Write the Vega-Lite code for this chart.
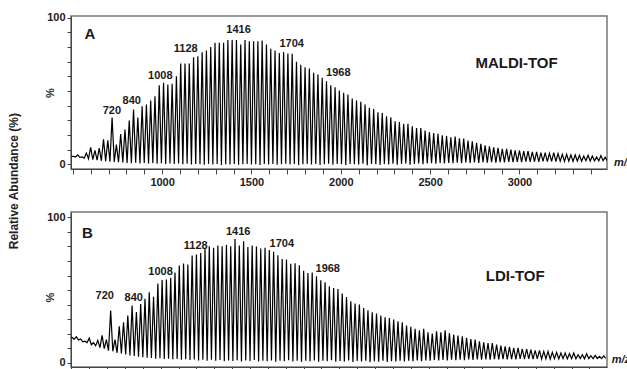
{
  "$schema": "https://vega.github.io/schema/vega-lite/v6.json",
  "padding": {"left": 7, "top": 11, "right": 0, "bottom": 0},
  "background": "white",
  "title": {"text": "Relative Abundance (%)", "orient": "left", "anchor": "middle", "offset": 23, "fontSize": 12, "fontWeight": "bold", "font": "Liberation Sans", "color": "#222", "dx": 10},
  "config": {
    "font": "Liberation Sans",
    "view": {"stroke": "#777", "strokeWidth": 1.5},
    "axis": {"grid": false, "domainColor": "#444", "domainWidth": 1, "tickColor": "#444", "labelFont": "Liberation Sans", "labelFontSize": 11, "labelFontWeight": "bold", "labelColor": "#222", "titleFont": "Liberation Sans", "titleFontSize": 11, "titleFontWeight": "bold", "titleColor": "#222"}
  },
  "datasets": {
    "spectrum": [
{"mz":492,"A":5.2,"B":17.2},
{"mz":504,"A":5.5,"B":17.5},{"mz":516,"A":5,"B":16.3},
{"mz":528,"A":6.5,"B":18},{"mz":540,"A":4.8,"B":15.8},
{"mz":552,"A":5,"B":16.5},{"mz":564,"A":4.2,"B":14.5},
{"mz":576,"A":7.7,"B":15},{"mz":588,"A":3.8,"B":14},
{"mz":600,"A":11.6,"B":17},{"mz":612,"A":3.2,"B":12.5},
{"mz":624,"A":9.5,"B":14},{"mz":636,"A":2.8,"B":11.8},
{"mz":648,"A":11,"B":15.5},{"mz":660,"A":2.4,"B":10.5},
{"mz":672,"A":17,"B":19},{"mz":684,"A":2.2,"B":9.8},
{"mz":696,"A":16.4,"B":16},{"mz":708,"A":1.8,"B":8.5},
{"mz":720,"A":32,"B":36},{"mz":732,"A":1.6,"B":8},
{"mz":744,"A":13.4,"B":16},{"mz":756,"A":1.4,"B":7},
{"mz":768,"A":20.7,"B":25.2},{"mz":780,"A":1.2,"B":6.5},
{"mz":792,"A":23.7,"B":27.9},{"mz":804,"A":1,"B":5.8},
{"mz":816,"A":29.8,"B":32.5},{"mz":828,"A":0.8,"B":5.2},
{"mz":840,"A":37.4,"B":39.4},{"mz":852,"A":1,"B":4.8},
{"mz":864,"A":32,"B":35},{"mz":876,"A":0.6,"B":4.3},
{"mz":888,"A":39.6,"B":40.5},{"mz":900,"A":0.9,"B":4},
{"mz":912,"A":40.8,"B":44},{"mz":924,"A":0.5,"B":3.6},
{"mz":936,"A":43.5,"B":48.5},{"mz":948,"A":0.8,"B":3.4},
{"mz":960,"A":46.5,"B":45.5},{"mz":972,"A":0.4,"B":3},
{"mz":984,"A":54,"B":54.5},{"mz":996,"A":0.7,"B":3.2},
{"mz":1008,"A":55.6,"B":57},{"mz":1020,"A":0.3,"B":2.7},
{"mz":1032,"A":54.4,"B":57.2},{"mz":1044,"A":0.6,"B":3},
{"mz":1056,"A":55,"B":58.4},{"mz":1068,"A":0.2,"B":2.5},
{"mz":1080,"A":60,"B":62},{"mz":1092,"A":0.5,"B":2.8},
{"mz":1104,"A":68.8,"B":66.8},{"mz":1116,"A":0,"B":2.3},
{"mz":1128,"A":68.8,"B":68.2},{"mz":1140,"A":0.4,"B":2.6},
{"mz":1152,"A":68.8,"B":67.5},{"mz":1164,"A":-0.2,"B":2},
{"mz":1176,"A":73,"B":73.7},{"mz":1188,"A":0.3,"B":2.4},
{"mz":1200,"A":73.7,"B":74.4},{"mz":1212,"A":0,"B":1.8},
{"mz":1224,"A":76.5,"B":75.5},{"mz":1236,"A":-0.3,"B":2.3},
{"mz":1248,"A":77.7,"B":78.2},{"mz":1260,"A":0.2,"B":1.6},
{"mz":1272,"A":80,"B":80.1},{"mz":1284,"A":-0.1,"B":2.2},
{"mz":1296,"A":83,"B":79},{"mz":1308,"A":0.3,"B":1.5},
{"mz":1320,"A":83,"B":80.6},{"mz":1332,"A":-0.4,"B":2},
{"mz":1344,"A":83,"B":80.1},{"mz":1356,"A":0.1,"B":1.2},
{"mz":1368,"A":84.8,"B":81.2},{"mz":1380,"A":-0.2,"B":1.8},
{"mz":1392,"A":84.8,"B":80.1},{"mz":1404,"A":0.2,"B":1.4},
{"mz":1416,"A":84.8,"B":85.1},{"mz":1428,"A":-0.3,"B":1.9},
{"mz":1440,"A":81.8,"B":80.6},{"mz":1452,"A":0,"B":1.1},
{"mz":1464,"A":84.8,"B":83.5},{"mz":1476,"A":0.3,"B":1.7},
{"mz":1488,"A":84,"B":79.5},{"mz":1500,"A":-0.2,"B":1.3},
{"mz":1512,"A":84,"B":80.6},{"mz":1524,"A":0.1,"B":2},
{"mz":1536,"A":84,"B":80},{"mz":1548,"A":-0.4,"B":1},
{"mz":1560,"A":84.5,"B":78.5},{"mz":1572,"A":0.2,"B":1.6},
{"mz":1584,"A":81.8,"B":79},{"mz":1596,"A":-0.1,"B":1.2},
{"mz":1608,"A":78.8,"B":77.6},{"mz":1620,"A":0.3,"B":1.8},
{"mz":1632,"A":77.7,"B":76.4},{"mz":1644,"A":-0.3,"B":0.9},
{"mz":1656,"A":76,"B":74},{"mz":1668,"A":0,"B":1.5},
{"mz":1680,"A":76.7,"B":71.3},{"mz":1692,"A":0.4,"B":1.2},
{"mz":1704,"A":75.6,"B":71},{"mz":1716,"A":-0.2,"B":1.9},
{"mz":1728,"A":75.4,"B":68},{"mz":1740,"A":0.2,"B":1},
{"mz":1752,"A":70,"B":68.5},{"mz":1764,"A":-0.5,"B":1.6},
{"mz":1776,"A":68,"B":67},{"mz":1788,"A":0.1,"B":0.8},
{"mz":1800,"A":66.3,"B":63.3},{"mz":1812,"A":0.3,"B":1.5},
{"mz":1824,"A":65.4,"B":61.8},{"mz":1836,"A":-0.2,"B":1.1},
{"mz":1848,"A":62.4,"B":62},{"mz":1860,"A":0.2,"B":1.8},
{"mz":1872,"A":61.3,"B":59.5},{"mz":1884,"A":-0.4,"B":0.9},
{"mz":1896,"A":59,"B":56.8},{"mz":1908,"A":0.1,"B":1.5},
{"mz":1920,"A":56.7,"B":55.4},{"mz":1932,"A":0.4,"B":1.2},
{"mz":1944,"A":54,"B":52.7},{"mz":1956,"A":-0.3,"B":1.9},
{"mz":1968,"A":52.6,"B":51.5},{"mz":1980,"A":0.2,"B":0.8},
{"mz":1992,"A":50.4,"B":50.8},{"mz":2004,"A":0,"B":1.4},
{"mz":2016,"A":48.8,"B":47.6},{"mz":2028,"A":-0.5,"B":1},
{"mz":2040,"A":47.6,"B":45.3},{"mz":2052,"A":0.3,"B":1.7},
{"mz":2064,"A":44.9,"B":42.3},{"mz":2076,"A":0.1,"B":0.7},
{"mz":2088,"A":43.5,"B":40.8},{"mz":2100,"A":-0.2,"B":1.3},
{"mz":2112,"A":42.6,"B":40.1},{"mz":2124,"A":0.4,"B":1},
{"mz":2136,"A":40.8,"B":37.8},{"mz":2148,"A":-0.6,"B":1.6},
{"mz":2160,"A":38.5,"B":36.2},{"mz":2172,"A":0.2,"B":0.6},
{"mz":2184,"A":37.8,"B":34.8},{"mz":2196,"A":0,"B":1.2},
{"mz":2208,"A":35.5,"B":33.9},{"mz":2220,"A":-0.4,"B":0.9},
{"mz":2232,"A":35,"B":32.5},{"mz":2244,"A":0.3,"B":1.5},
{"mz":2256,"A":32.8,"B":31.4},{"mz":2268,"A":-0.1,"B":0.7},
{"mz":2280,"A":32.1,"B":30.9},{"mz":2292,"A":0.4,"B":1.3},
{"mz":2304,"A":29.4,"B":29.8},{"mz":2316,"A":-0.3,"B":1.1},
{"mz":2328,"A":28.9,"B":28.6},{"mz":2340,"A":0.2,"B":1.6},
{"mz":2352,"A":27.6,"B":28},{"mz":2364,"A":0.5,"B":1},
{"mz":2376,"A":27.6,"B":25.7},{"mz":2388,"A":-0.2,"B":1.5},
{"mz":2400,"A":26,"B":24.8},{"mz":2412,"A":0.3,"B":1.2},
{"mz":2424,"A":24.8,"B":23.4},{"mz":2436,"A":0.6,"B":1.8},
{"mz":2448,"A":24.8,"B":22.5},{"mz":2460,"A":0.1,"B":1.3},
{"mz":2472,"A":23,"B":23.4},{"mz":2484,"A":0.5,"B":1.8},
{"mz":2496,"A":22,"B":21.1},{"mz":2508,"A":0.8,"B":1.5},
{"mz":2520,"A":21.4,"B":20.2},{"mz":2532,"A":0.4,"B":2},
{"mz":2544,"A":20.8,"B":21.8},{"mz":2556,"A":0.9,"B":1.7},
{"mz":2568,"A":19.8,"B":21.1},{"mz":2580,"A":0.6,"B":2.1},
{"mz":2592,"A":19.2,"B":22.5},{"mz":2604,"A":1,"B":1.8},
{"mz":2616,"A":18.5,"B":20.6},{"mz":2628,"A":0.7,"B":2.2},
{"mz":2640,"A":19,"B":19.5},{"mz":2652,"A":1.1,"B":1.9},
{"mz":2664,"A":17.8,"B":18.8},{"mz":2676,"A":0.8,"B":2.3},
{"mz":2688,"A":17.5,"B":18.3},{"mz":2700,"A":1.2,"B":2},
{"mz":2712,"A":16.2,"B":17.2},{"mz":2724,"A":0.9,"B":2.4},
{"mz":2736,"A":15.7,"B":16.5},{"mz":2748,"A":1.3,"B":2.1},
{"mz":2760,"A":14.6,"B":16},{"mz":2772,"A":1,"B":2.5},
{"mz":2784,"A":13.9,"B":14.9},{"mz":2796,"A":1.4,"B":2.2},
{"mz":2808,"A":13,"B":14.2},{"mz":2820,"A":1.1,"B":2.5},
{"mz":2832,"A":12.3,"B":13.7},{"mz":2844,"A":1.5,"B":2.3},
{"mz":2856,"A":11.6,"B":13.7},{"mz":2868,"A":1.2,"B":2.6},
{"mz":2880,"A":11.2,"B":12.6},{"mz":2892,"A":1.5,"B":2.4},
{"mz":2904,"A":10.5,"B":11.9},{"mz":2916,"A":1.3,"B":2.7},
{"mz":2928,"A":10.5,"B":11.4},{"mz":2940,"A":1.6,"B":2.5},
{"mz":2952,"A":10,"B":11},{"mz":2964,"A":1.4,"B":2.7},
{"mz":2976,"A":9.5,"B":10.3},{"mz":2988,"A":1.7,"B":2.5},
{"mz":3000,"A":9.5,"B":10.3},{"mz":3012,"A":1.5,"B":2.8},
{"mz":3024,"A":9,"B":9.6},{"mz":3036,"A":1.8,"B":2.6},
{"mz":3048,"A":9,"B":9.6},{"mz":3060,"A":1.6,"B":2.8},
{"mz":3072,"A":8.5,"B":9.2},{"mz":3084,"A":1.8,"B":2.6},
{"mz":3096,"A":8.5,"B":8.7},{"mz":3108,"A":1.7,"B":2.9},
{"mz":3120,"A":8,"B":8.7},{"mz":3132,"A":2,"B":2.7},
{"mz":3144,"A":8,"B":8},{"mz":3156,"A":1.8,"B":2.9},
{"mz":3168,"A":7.5,"B":8},{"mz":3180,"A":2,"B":2.7},
{"mz":3192,"A":8,"B":7.3},{"mz":3204,"A":1.9,"B":3},
{"mz":3216,"A":7.3,"B":7.3},{"mz":3228,"A":2.1,"B":2.8},
{"mz":3240,"A":6.8,"B":6.9},{"mz":3252,"A":2,"B":3},
{"mz":3264,"A":6.8,"B":6.9},{"mz":3276,"A":2.2,"B":2.8},
{"mz":3288,"A":6.4,"B":6.4},{"mz":3300,"A":2,"B":3},
{"mz":3312,"A":6.4,"B":6.9},{"mz":3324,"A":2.3,"B":2.9},
{"mz":3336,"A":6.2,"B":5.7},{"mz":3348,"A":2.1,"B":3},
{"mz":3360,"A":5.7,"B":5.7},{"mz":3372,"A":2.4,"B":2.9},
{"mz":3384,"A":6.2,"B":6.4},{"mz":3396,"A":2.2,"B":3.1},
{"mz":3408,"A":5.7,"B":5},{"mz":3420,"A":2.4,"B":2.9},
{"mz":3432,"A":5,"B":5.2},{"mz":3444,"A":2.3,"B":3.1},
{"mz":3456,"A":6,"B":4.6},{"mz":3468,"A":2.5,"B":3},
{"mz":3480,"A":4.8,"B":5},{"mz":3490,"A":2.6,"B":3.2}
    ],
    "labelsA": [
      {"t": "720", "mz": 719, "A": 36.7, "kind": "peak"},
      {"t": "840", "mz": 830, "A": 43, "kind": "peak"},
      {"t": "1008", "mz": 990, "A": 60, "kind": "peak"},
      {"t": "1128", "mz": 1132, "A": 78.4, "kind": "peak"},
      {"t": "1416", "mz": 1428, "A": 91.4, "kind": "peak"},
      {"t": "1704", "mz": 1725, "A": 82.2, "kind": "peak"},
      {"t": "1968", "mz": 1986, "A": 62.4, "kind": "peak"},
      {"t": "MALDI-TOF", "mz": 2984, "A": 69.2, "kind": "name"},
      {"t": "A", "mz": 596, "A": 88.6, "kind": "name"},
      {"t": "m/z", "mz": 3529, "A": 0.9, "kind": "unit"}
    ],
    "labelsB": [
      {"t": "720", "mz": 687, "B": 45.8, "kind": "peak"},
      {"t": "840", "mz": 849, "B": 44.6, "kind": "peak"},
      {"t": "1008", "mz": 999, "B": 62.3, "kind": "peak"},
      {"t": "1128", "mz": 1196, "B": 80.6, "kind": "peak"},
      {"t": "1416", "mz": 1434, "B": 89.7, "kind": "peak"},
      {"t": "1704", "mz": 1678, "B": 81.7, "kind": "peak"},
      {"t": "1968", "mz": 1935, "B": 64.8, "kind": "peak"},
      {"t": "LDI-TOF", "mz": 2984, "B": 59.5, "kind": "name"},
      {"t": "B", "mz": 590, "B": 89.2, "kind": "name"},
      {"t": "m/z", "mz": 3524, "B": 2.3, "kind": "unit"}
    ]
  },
  "spacing": 43,
  "bounds": "flush",
  "vconcat": [
    {
      "width": 536,
      "height": 153,
      "encoding": {
        "x": {"field": "mz", "type": "quantitative", "scale": {"domain": [490, 3490], "nice": false, "zero": false},
          "axis": {"title": null, "values": [500,600,700,800,900,1000,1100,1200,1300,1400,1500,1600,1700,1800,1900,2000,2100,2200,2300,2400,2500,2600,2700,2800,2900,3000,3100,3200,3300,3400],
            "labelExpr": "datum.value % 500 === 0 && datum.value >= 1000 ? datum.label : ''", "format": "d", "tickSize": 5, "labelPadding": 2, "labelFlush": false, "labelOverlap": false}},
        "y": {"field": "A", "type": "quantitative", "scale": {"domain": [-3.2, 101.2], "nice": false, "zero": false},
          "axis": {"title": "%", "titleX": -20.5, "titleBaseline": "middle", "values": [0,10,20,30,40,50,60,70,80,90,100],
            "labelExpr": "datum.value === 0 || datum.value === 100 ? datum.label : ''", "tickSize": 4, "labelPadding": 2, "labelOverlap": false}}
      },
      "layer": [
        {
          "data": {"name": "spectrum"},
          "mark": {"type": "line", "color": "#000", "strokeWidth": 1.2, "clip": true}
        },
        {
          "data": {"name": "labelsA"},
          "transform": [{"filter": "datum.kind === 'peak'"}],
          "mark": {"type": "text", "fontSize": 11, "fontWeight": "bold", "font": "Liberation Sans", "color": "#1a1a1a", "align": "center", "baseline": "middle"},
          "encoding": {"text": {"field": "t"}}
        },
        {
          "data": {"name": "labelsA"},
          "transform": [{"filter": "datum.kind === 'name'"}],
          "mark": {"type": "text", "fontSize": 15, "fontWeight": "bold", "font": "Liberation Sans", "color": "#1a1a1a", "align": "center", "baseline": "middle"},
          "encoding": {"text": {"field": "t"}}
        },
        {
          "data": {"name": "labelsA"},
          "transform": [{"filter": "datum.kind === 'unit'"}],
          "mark": {"type": "text", "fontSize": 11, "fontWeight": "bold", "fontStyle": "italic", "font": "Liberation Sans", "color": "#1a1a1a", "align": "left", "baseline": "middle"},
          "encoding": {"text": {"field": "t"}}
        }
      ]
    },
    {
      "width": 536,
      "height": 155,
      "encoding": {
        "x": {"field": "mz", "type": "quantitative", "scale": {"domain": [498, 3498], "nice": false, "zero": false},
          "axis": {"title": null, "values": [500,600,700,800,900,1000,1100,1200,1300,1400,1500,1600,1700,1800,1900,2000,2100,2200,2300,2400,2500,2600,2700,2800,2900,3000,3100,3200,3300,3400],
            "labels": false, "tickSize": 3}},
        "y": {"field": "B", "type": "quantitative", "scale": {"domain": [-2.75, 103.6], "nice": false, "zero": false},
          "axis": {"title": "%", "titleX": -20.5, "titleY": 85, "titleBaseline": "middle", "values": [0,10,20,30,40,50,60,70,80,90,100],
            "labelExpr": "datum.value === 0 || datum.value === 100 ? datum.label : ''", "tickSize": 4, "labelPadding": 2, "labelOverlap": false}}
      },
      "layer": [
        {
          "data": {"name": "spectrum"},
          "mark": {"type": "line", "color": "#000", "strokeWidth": 1.2, "clip": true}
        },
        {
          "data": {"name": "labelsB"},
          "transform": [{"filter": "datum.kind === 'peak'"}],
          "mark": {"type": "text", "fontSize": 11, "fontWeight": "bold", "font": "Liberation Sans", "color": "#1a1a1a", "align": "center", "baseline": "middle"},
          "encoding": {"text": {"field": "t"}}
        },
        {
          "data": {"name": "labelsB"},
          "transform": [{"filter": "datum.kind === 'name'"}],
          "mark": {"type": "text", "fontSize": 15, "fontWeight": "bold", "font": "Liberation Sans", "color": "#1a1a1a", "align": "center", "baseline": "middle"},
          "encoding": {"text": {"field": "t"}}
        },
        {
          "data": {"name": "labelsB"},
          "transform": [{"filter": "datum.kind === 'unit'"}],
          "mark": {"type": "text", "fontSize": 11, "fontWeight": "bold", "fontStyle": "italic", "font": "Liberation Sans", "color": "#1a1a1a", "align": "left", "baseline": "middle"},
          "encoding": {"text": {"field": "t"}}
        }
      ]
    }
  ]
}
